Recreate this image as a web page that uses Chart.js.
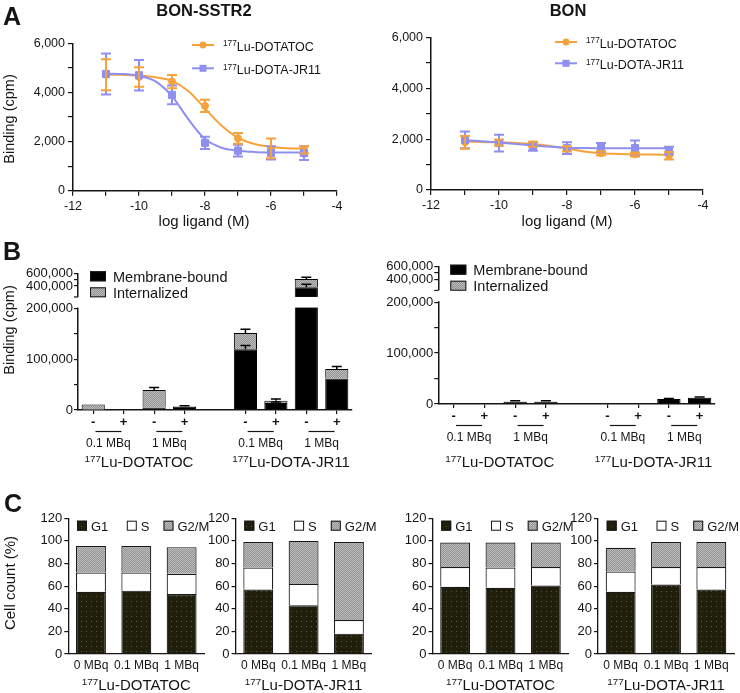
<!DOCTYPE html>
<html>
<head>
<meta charset="utf-8">
<script src="https://cdn.jsdelivr.net/npm/chart.js@4.4.1/dist/chart.umd.min.js"></script>
<style>
html, body { margin: 0; padding: 0; background: #fff; }
#page { position: relative; width: 740px; height: 693px; }
#page canvas { position: absolute; left: 0; top: 0; }
</style>
</head>
<body>
<div id="page">
  <canvas id="a1" width="740" height="693"></canvas>
  <canvas id="a2" width="740" height="693"></canvas>
  <canvas id="b1" width="740" height="693"></canvas>
  <canvas id="b2" width="740" height="693"></canvas>
  <canvas id="c1" width="740" height="693"></canvas>
  <canvas id="c2" width="740" height="693"></canvas>
  <canvas id="c3" width="740" height="693"></canvas>
  <canvas id="c4" width="740" height="693"></canvas>
</div>
<script>
// ---- data ----
const logDose = [-11, -10, -9, -8, -7, -6, -5];
const fitDose = [-11, -10.5, -10, -9.5, -9, -8.5, -8, -7.5, -7, -6.5, -6, -5.5, -5];

// panel A, BON-SSTR2
const sstrTocMean = [4720, 4630, 4440, 3450, 2130, 1720, 1660];
const sstrTocSd = [630, 400, 270, 250, 220, 400, 150];
const sstrJrMean = [4750, 4700, 3900, 1950, 1630, 1540, 1530];
const sstrJrSd = [830, 620, 380, 250, 240, 270, 280];
const sstrTocFit = [4720, 4715, 4690, 4620, 4470, 4050, 3350, 2650, 2150, 1900, 1780, 1730, 1710];
const sstrJrFit = [4760, 4750, 4680, 4450, 3850, 2900, 2100, 1750, 1630, 1580, 1560, 1555, 1550];

// panel A, BON
const bonTocMean = [1880, 1870, 1800, 1620, 1450, 1400, 1350];
const bonTocSd = [250, 120, 100, 100, 80, 80, 150];
const bonJrMean = [1970, 1850, 1720, 1650, 1680, 1650, 1550];
const bonJrSd = [330, 330, 170, 230, 170, 300, 150];
const bonTocFit = [1900, 1895, 1880, 1850, 1810, 1730, 1630, 1520, 1450, 1420, 1400, 1395, 1390];
const bonJrFit = [1960, 1920, 1870, 1810, 1750, 1700, 1665, 1650, 1645, 1645, 1645, 1645, 1645];

// panel B
const bindSlots = ['-', '+', '-', '+', '', '-', '+', '-', '+'];
const doseGroups = ['0.1 MBq', '1 MBq', '0.1 MBq', '1 MBq'];
const tracers = ['177Lu-DOTATOC', '177Lu-DOTA-JR11'];
const bindTicks = [0, 50000, 100000, 150000, 200000, 400000, 500000, 600000];
const bindLabelled = [0, 100000, 200000, 400000, 600000];
const sstrMembrane = [500, 0, 5000, 6500, null, 120000, 14000, 380000, 62000];
const sstrInternal = [10500, 0, 34500, 1000, null, 32000, 4000, 130000, 19000];
const sstrMembraneSd = [0, 0, 0, 0, null, 7000, 2000, 45000, 0];
const sstrTotalSd = [0, 0, 5000, 1000, null, 7000, 3500, 27000, 5000];
const bonMembrane = [0, 0, 4500, 4500, null, 0, 0, 10000, 12500];
const bonInternal = [0, 0, 200, 200, null, 0, 0, 200, 200];
const bonMembraneSd = [0, 0, 0, 0, null, 0, 0, 0, 0];
const bonTotalSd = [0, 0, 1500, 1500, null, 0, 0, 800, 800];

// panel C
const doses = ['0 MBq', '0.1 MBq', '1 MBq'];
const phases = ['G1', 'S', 'G2/M'];
const sstrTocG1 = [55, 56, 53];
const sstrTocS = [17, 16, 18];
const sstrTocG2M = [23.5, 23.5, 23.5];
const sstrJrG1 = [57, 43, 18];
const sstrJrS = [19.5, 19, 12];
const sstrJrG2M = [22.5, 38, 69];
const bonTocG1 = [59.5, 58.5, 60.5];
const bonTocS = [17.5, 18, 16.5];
const bonTocG2M = [21.5, 22, 21.5];
const bonJrG1 = [55, 61.5, 57];
const bonJrS = [18, 15.5, 20];
const bonJrG2M = [21, 22, 22];

// ---- look ----
const FONT = '"Liberation Sans", Arial, Helvetica, sans-serif';
const INK = '#151515';
const ORANGE = '#f6a23c';
const BLUE = '#8f8ff2';
const PAGE_W = 740, PAGE_H = 693;

Chart.defaults.font.family = FONT;
Chart.defaults.color = INK;
Chart.defaults.animation = false;
Chart.defaults.events = [];
Chart.defaults.responsive = false;
Chart.defaults.plugins.legend.display = false;
Chart.defaults.plugins.tooltip.enabled = false;

function dotPattern(base, dot, step) {
  const c = document.createElement('canvas');
  c.width = c.height = step;
  const g = c.getContext('2d');
  g.fillStyle = base; g.fillRect(0, 0, step, step);
  g.fillStyle = dot; g.fillRect(1, 1, 1, 1);
  return g.createPattern(c, 'repeat');
}
function checkPattern(a, b) {
  const c = document.createElement('canvas');
  c.width = c.height = 2;
  const g = c.getContext('2d');
  g.fillStyle = a; g.fillRect(0, 0, 2, 2);
  g.fillStyle = b; g.fillRect(0, 0, 1, 1); g.fillRect(1, 1, 1, 1);
  return g.createPattern(c, 'repeat');
}
const darkFill = dotPattern('#201f0c', '#5a5740', 5);
const grayFill = checkPattern('#949494', '#bcbcbc');

// text like "177Lu-DOTATOC" with the mass number raised
function drawIso(ctx, text, x, y, size, align) {
  const m = text.match(/^(\d+)(.*)$/);
  const sup = m ? m[1] : '';
  const main = m ? m[2] : text;
  const ss = size * 0.66;
  ctx.font = ss + 'px ' + FONT;
  const w1 = ctx.measureText(sup).width;
  ctx.font = size + 'px ' + FONT;
  const w2 = ctx.measureText(main).width;
  const x0 = align === 'center' ? x - (w1 + w2) / 2 : x;
  ctx.fillStyle = INK;
  ctx.textAlign = 'left';
  ctx.textBaseline = 'alphabetic';
  ctx.font = ss + 'px ' + FONT;
  ctx.fillText(sup, x0, y - size * 0.33);
  ctx.font = size + 'px ' + FONT;
  ctx.fillText(main, x0 + w1, y);
}

// linear axis with a gap between CUT_LOW and CUT_HIGH
const CUT_LOW = 200000, CUT_HIGH = 250000, LOW_FRAC = 0.742, HIGH_FRAC = 0.162;
const Linear = Chart.LinearScale;
class BrokenScale extends Linear {
  segs() {
    const h = this.bottom - this.top;
    return { lo: this.bottom - LOW_FRAC * h, hi: this.top + HIGH_FRAC * h };
  }
  getPixelForValue(v) {
    if (v === null || v === undefined || isNaN(v)) return NaN;
    const { lo, hi } = this.segs();
    if (v <= CUT_LOW) return this.bottom - (v - this.min) / (CUT_LOW - this.min) * (this.bottom - lo);
    if (v >= CUT_HIGH) return hi - (v - CUT_HIGH) / (this.max - CUT_HIGH) * (hi - this.top);
    return lo - (v - CUT_LOW) / (CUT_HIGH - CUT_LOW) * (lo - hi);
  }
  getValueForPixel(p) {
    const { lo, hi } = this.segs();
    if (p >= lo) return this.min + (this.bottom - p) / (this.bottom - lo) * (CUT_LOW - this.min);
    if (p <= hi) return CUT_HIGH + (hi - p) / (hi - this.top) * (this.max - CUT_HIGH);
    return CUT_LOW + (lo - p) / (lo - hi) * (CUT_HIGH - CUT_LOW);
  }
}
BrokenScale.id = 'broken';
BrokenScale.defaults = Linear.defaults;
Chart.register(BrokenScale);

// ---- plugins ----
const axisBreak = {
  id: 'axisBreak',
  afterDatasetsDraw(chart) {
    const y = chart.scales.y;
    if (!y || y.type !== 'broken') return;
    const lo = y.getPixelForValue(CUT_LOW), hi = y.getPixelForValue(CUT_HIGH);
    const a = chart.chartArea, ctx = chart.ctx;
    ctx.save();
    ctx.fillStyle = '#fff';
    ctx.fillRect(a.left - 3, hi + 1.5, a.right - a.left + 3, lo - hi - 2.5);
    ctx.strokeStyle = INK;
    ctx.lineWidth = 1.2;
    ctx.beginPath();
    ctx.moveTo(a.left - 4, hi + 1.5);
    ctx.lineTo(a.left, hi + 1.5);
    ctx.stroke();
    ctx.restore();
  }
};

const errorBars = {
  id: 'errorBars',
  afterDatasetsDraw(chart) {
    const ctx = chart.ctx;
    chart.data.datasets.forEach((ds, i) => {
      if (!ds.errors) return;
      const meta = chart.getDatasetMeta(i);
      const ys = chart.scales[meta.yAxisID];
      ctx.save();
      ctx.strokeStyle = ds.errorColor || ds.borderColor;
      ctx.lineWidth = ds.errorWidth || 2;
      meta.data.forEach((el, j) => {
        const e = ds.errors[j];
        if (!e) return;
        const v = ds.errorBase ? ds.errorBase[j] : ds.data[j].y;
        const top = ys.getPixelForValue(v + e);
        const bot = ys.getPixelForValue(ds.both ? v - e : v);
        const x = el.x, c = ds.capHalf || 5;
        ctx.beginPath();
        ctx.moveTo(x, bot); ctx.lineTo(x, top);
        ctx.moveTo(x - c, top); ctx.lineTo(x + c, top);
        if (ds.both) { ctx.moveTo(x - c, bot); ctx.lineTo(x + c, bot); }
        ctx.stroke();
      });
      ctx.restore();
    });
  }
};

const keyBox = {
  id: 'keyBox',
  afterDraw(chart, args, o) {
    if (!o.items) return;
    const ctx = chart.ctx, a = chart.chartArea;
    o.items.forEach(it => {
      const ds = chart.data.datasets[it.ds];
      const x = a.left + it.dx, y = a.top + it.dy;
      ctx.save();
      if (it.kind === 'line') {
        ctx.strokeStyle = ds.borderColor;
        ctx.lineWidth = 2;
        ctx.beginPath(); ctx.moveTo(x, y); ctx.lineTo(x + it.w, y); ctx.stroke();
        ctx.fillStyle = ds.borderColor;
        const cx = x + it.w / 2;
        if (ds.pointStyle === 'rect') ctx.fillRect(cx - 3.5, y - 3.5, 7, 7);
        else { ctx.beginPath(); ctx.arc(cx, y, 3.5, 0, Math.PI * 2); ctx.fill(); }
        drawIso(ctx, ds.label, x + it.w + it.gap, y + 5.5, it.size, 'left');
      } else {
        ctx.fillStyle = ds.backgroundColor;
        ctx.fillRect(x, y, it.w, it.h);
        ctx.strokeStyle = INK;
        ctx.lineWidth = 1;
        ctx.strokeRect(x + 0.5, y + 0.5, it.w - 1, it.h - 1);
        ctx.fillStyle = INK;
        ctx.font = it.size + 'px ' + FONT;
        ctx.textAlign = 'left';
        ctx.textBaseline = 'alphabetic';
        ctx.fillText(ds.label, x + it.w + it.gap, y + it.h + 0.5);
      }
      ctx.restore();
    });
  }
};

const doseLabels = {
  id: 'doseLabels',
  afterDraw(chart, args, o) {
    const xs = chart.scales.x, a = chart.chartArea, ctx = chart.ctx;
    ctx.save();
    ctx.strokeStyle = INK;
    ctx.lineWidth = 1.2;
    ctx.fillStyle = INK;
    (o.pairs || []).forEach(p => {
      const c = (xs.getPixelForValue(p[0]) + xs.getPixelForValue(p[1])) / 2;
      const ly = a.bottom + o.lineDy;
      ctx.beginPath(); ctx.moveTo(c - 13, ly); ctx.lineTo(c + 13, ly); ctx.stroke();
      ctx.font = '12px ' + FONT;
      ctx.textAlign = 'center';
      ctx.textBaseline = 'alphabetic';
      ctx.fillText(p[2], c, a.bottom + o.textDy);
    });
    (o.groups || []).forEach(g => {
      const c = (xs.getPixelForValue(g[0]) + xs.getPixelForValue(g[1])) / 2;
      drawIso(ctx, g[2], c, o.groupY, 15, 'center');
    });
    ctx.restore();
  }
};

const pageText = {
  id: 'pageText',
  afterDraw(chart, args, o) {
    if (!o.items) return;
    const ctx = chart.ctx;
    o.items.forEach(t => {
      ctx.save();
      ctx.fillStyle = INK;
      ctx.font = (t.bold ? 'bold ' : '') + t.size + 'px ' + FONT;
      ctx.textAlign = t.align || 'left';
      ctx.textBaseline = 'alphabetic';
      ctx.translate(t.x, t.y);
      if (t.rot) ctx.rotate(-Math.PI / 2);
      ctx.fillText(t.text, 0, 0);
      ctx.restore();
    });
  }
};

Chart.register(axisBreak, errorBars, keyBox, doseLabels, pageText);

function frame(box, yw, xh) {
  return { left: box[0] - yw, top: box[1], right: PAGE_W - box[2], bottom: PAGE_H - box[3] - xh };
}

// ---- panel A ----
function bindingCurve(id, box, tocMean, tocSd, tocFit, jrMean, jrSd, jrFit, key, extra) {
  const pts = ys => logDose.map((x, i) => ({ x: x, y: ys[i] }));
  const fit = ys => fitDose.map((x, i) => ({ x: x, y: ys[i] }));
  return new Chart(document.getElementById(id), {
    type: 'scatter',
    data: {
      datasets: [
        { label: tracers[1], data: pts(jrMean), errors: jrSd, both: true, pointStyle: 'rect',
          pointRadius: 5, backgroundColor: BLUE, borderColor: BLUE },
        { label: 'JR11 fit', data: fit(jrFit), showLine: true, pointRadius: 0, borderColor: BLUE,
          borderWidth: 2, cubicInterpolationMode: 'monotone' },
        { label: tracers[0], data: pts(tocMean), errors: tocSd, both: true, pointStyle: 'circle',
          pointRadius: 3.5, backgroundColor: ORANGE, borderColor: ORANGE },
        { label: 'DOTATOC fit', data: fit(tocFit), showLine: true, pointRadius: 0, borderColor: ORANGE,
          borderWidth: 2, cubicInterpolationMode: 'monotone' }
      ]
    },
    options: {
      layout: { padding: frame(box, 60, 30) },
      scales: {
        x: {
          type: 'linear', min: -12, max: -4,
          afterFit: s => { s.height = 30; },
          ticks: { stepSize: 1, autoSkip: false, maxRotation: 0, padding: 3, font: { size: 12.5 },
                   callback: v => (v % 2 === 0 ? String(v) : '') },
          grid: { drawOnChartArea: false, tickLength: 5, color: INK, lineWidth: 1.2 },
          border: { color: INK, width: 1.5 }
        },
        y: {
          min: 0, max: 6000,
          afterFit: s => { s.width = 60; },
          ticks: { stepSize: 1000, autoSkip: false, padding: 3, font: { size: 12.5 },
                   callback: v => (v % 2000 === 0 ? v.toLocaleString('en-US') : '') },
          grid: { drawOnChartArea: false, tickLength: 5, color: INK, lineWidth: 1.2 },
          border: { color: INK, width: 1.5 }
        }
      },
      plugins: {
        keyBox: { items: [
          { ds: 2, kind: 'line', dx: key[0], dy: key[1], w: 22, gap: 9, size: 12.5 },
          { ds: 0, kind: 'line', dx: key[0], dy: key[2], w: 22, gap: 9, size: 12.5 }
        ] },
        pageText: extra || {}
      }
    }
  });
}

// ---- panel B ----
function uptakeChart(id, box, membrane, internal, memSd, totSd) {
  const totals = membrane.map((m, i) => (m === null ? null : m + internal[i]));
  return new Chart(document.getElementById(id), {
    type: 'bar',
    data: {
      labels: bindSlots,
      datasets: [
        { label: 'Membrane-bound', data: membrane, backgroundColor: '#000', borderColor: '#000',
          errors: memSd, errorBase: membrane, errorColor: '#000', errorWidth: 1.5 },
        { label: 'Internalized', data: internal, backgroundColor: grayFill, borderColor: '#000',
          errors: totSd, errorBase: totals, errorColor: '#000', errorWidth: 1.5 }
      ]
    },
    options: {
      layout: { padding: frame(box, 60, 20) },
      datasets: { bar: { borderWidth: 1, barPercentage: 0.76, categoryPercentage: 1 } },
      scales: {
        x: {
          stacked: true,
          afterFit: s => { s.height = 20; },
          ticks: { autoSkip: false, maxRotation: 0, padding: 1, font: { size: 13, weight: 'bold' } },
          grid: { offset: false, drawOnChartArea: false, tickLength: 4, lineWidth: 1.2,
                  tickColor: c => (bindSlots[c.index] ? INK : 'rgba(0,0,0,0)') },
          border: { color: INK, width: 1.5 }
        },
        y: {
          type: 'broken', stacked: true, min: 0, max: 600000,
          afterFit: s => { s.width = 60; },
          afterBuildTicks: s => { s.ticks = bindTicks.map(v => ({ value: v })); },
          ticks: { autoSkip: false, padding: 1, font: { size: 13 },
                   callback: v => (bindLabelled.includes(v) ? v.toLocaleString('en-US') : '') },
          grid: { drawOnChartArea: false, tickLength: 4, color: INK, lineWidth: 1.2 },
          border: { color: INK, width: 1.5 }
        }
      },
      plugins: {
        keyBox: { items: [
          { ds: 0, dx: 12, dy: -2, w: 16, h: 10, gap: 7, size: 14.5 },
          { ds: 1, dx: 12, dy: 14, w: 16, h: 10, gap: 7, size: 14.5 }
        ] },
        doseLabels: {
          pairs: [[0, 1, doseGroups[0]], [2, 3, doseGroups[1]], [5, 6, doseGroups[2]], [7, 8, doseGroups[3]]],
          lineDy: 21.5, textDy: 37,
          groups: [[0, 3, tracers[0]], [5, 8, tracers[1]]],
          groupY: 466.5
        }
      }
    }
  });
}

// ---- panel C ----
function cycleChart(id, box, g1, s, g2m, tracer) {
  return new Chart(document.getElementById(id), {
    type: 'bar',
    data: {
      labels: doses,
      datasets: [
        { label: phases[0], data: g1, backgroundColor: darkFill },
        { label: phases[1], data: s, backgroundColor: '#ffffff' },
        { label: phases[2], data: g2m, backgroundColor: grayFill }
      ]
    },
    options: {
      layout: { padding: frame(box, 40, 20) },
      datasets: { bar: { borderColor: '#1a1a1a', borderWidth: 1.2, barPercentage: 0.66, categoryPercentage: 1 } },
      scales: {
        x: {
          stacked: true,
          afterFit: sc => { sc.height = 20; },
          ticks: { autoSkip: false, maxRotation: 0, padding: 4, font: { size: 12 } },
          grid: { display: false, drawTicks: false },
          border: { color: INK, width: 1.3 }
        },
        y: {
          stacked: true, min: 0, max: 120,
          afterFit: sc => { sc.width = 40; },
          ticks: { stepSize: 20, autoSkip: false, padding: 2, font: { size: 13 } },
          grid: { drawOnChartArea: false, tickLength: 4, color: INK, lineWidth: 1.2 },
          border: { color: INK, width: 1.3 }
        }
      },
      plugins: {
        keyBox: { items: [
          { ds: 0, dx: 8.7, dy: 2.4, w: 10, h: 10, gap: 4, size: 13 },
          { ds: 1, dx: 58.5, dy: 2.4, w: 10, h: 10, gap: 4, size: 13 },
          { ds: 2, dx: 95.2, dy: 2.4, w: 10, h: 10, gap: 4, size: 13 }
        ] },
        doseLabels: { groups: [[0, 2, tracer]], groupY: 690 }
      }
    }
  });
}

const pageLabels = { items: [
  { text: 'A', x: 3, y: 25, size: 25, bold: true },
  { text: 'BON-SSTR2', x: 204, y: 15.5, size: 16.5, bold: true, align: 'center' },
  { text: 'BON', x: 568, y: 15.5, size: 16.5, bold: true, align: 'center' },
  { text: 'Binding (cpm)', x: 13.5, y: 119, size: 14.5, rot: true, align: 'center' },
  { text: 'log ligand (M)', x: 204, y: 225.5, size: 15, align: 'center' },
  { text: 'log ligand (M)', x: 567, y: 226, size: 15, align: 'center' },
  { text: 'B', x: 3, y: 260, size: 25, bold: true },
  { text: 'Binding (cpm)', x: 13.5, y: 330, size: 14.5, rot: true, align: 'center' },
  { text: 'C', x: 4, y: 512, size: 25, bold: true },
  { text: 'Cell count (%)', x: 14.5, y: 583, size: 15, rot: true, align: 'center' }
] };

bindingCurve('a1', [73, 43.3, 337, 190.7], sstrTocMean, sstrTocSd, sstrTocFit,
             sstrJrMean, sstrJrSd, sstrJrFit, [119, 1.7, 25], pageLabels);
bindingCurve('a2', [431, 37.7, 703, 190], bonTocMean, bonTocSd, bonTocFit,
             bonJrMean, bonJrSd, bonJrFit, [124, 4.3, 25.6]);

uptakeChart('b1', [78, 273.3, 352, 410], sstrMembrane, sstrInternal, sstrMembraneSd, sstrTotalSd);
uptakeChart('b2', [438.3, 266.7, 715, 404], bonMembrane, bonInternal, bonMembraneSd, bonTotalSd);

cycleChart('c1', [68.3, 518.3, 204.3, 654], sstrTocG1, sstrTocS, sstrTocG2M, tracers[0]);
cycleChart('c2', [235.6, 518.3, 371.6, 654], sstrJrG1, sstrJrS, sstrJrG2M, tracers[1]);
cycleChart('c3', [432.5, 518.3, 568.5, 654], bonTocG1, bonTocS, bonTocG2M, tracers[0]);
cycleChart('c4', [598, 518.3, 734, 654], bonJrG1, bonJrS, bonJrG2M, tracers[1]);
</script>
</body>
</html>
